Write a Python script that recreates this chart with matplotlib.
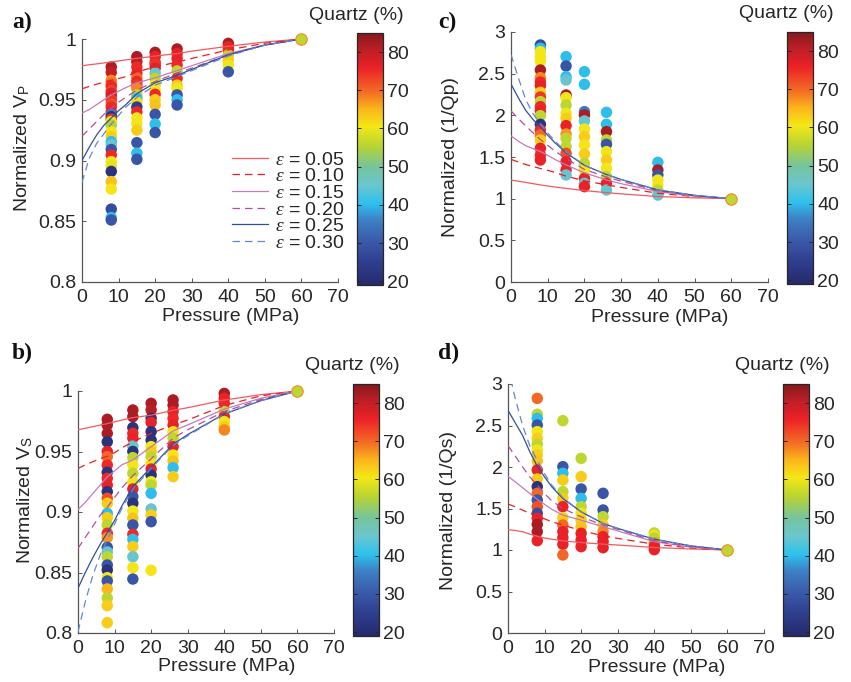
import matplotlib
matplotlib.use('Agg')
import matplotlib.pyplot as plt
from matplotlib.colors import LinearSegmentedColormap
from matplotlib import ticker

plt.rcParams['font.family'] = ['Liberation Sans', 'DejaVu Sans']
plt.rcParams['mathtext.fontset'] = 'custom'
plt.rcParams['mathtext.rm'] = 'Liberation Sans'
plt.rcParams['mathtext.it'] = 'Liberation Serif:italic'

# measurement pressures (MPa) for the scatter columns
pressures = [8, 15, 20, 26, 40]
p_ref = 60

# normalized Vp, one list per pressure, and quartz content (%) of each sample
vp_vals = [
    [0.977, 0.9726, 0.966, 0.963, 0.961, 0.9575, 0.9553, 0.953, 0.950, 0.9465, 0.944, 0.940, 0.938,
     0.936, 0.934, 0.932, 0.929, 0.9237, 0.9196, 0.9155, 0.913, 0.909, 0.9045, 0.899, 0.895,
     0.891, 0.8826, 0.8765, 0.860, 0.853, 0.851],
    [0.9855, 0.9813, 0.977, 0.9717, 0.968, 0.965, 0.962, 0.9594, 0.954, 0.951, 0.948, 0.944,
     0.940, 0.935, 0.9306, 0.925, 0.9147, 0.906, 0.901],
    [0.989, 0.9855, 0.981, 0.979, 0.976, 0.972, 0.9676, 0.962, 0.958, 0.9545, 0.950, 0.9457,
     0.938, 0.930, 0.923],
    [0.9918, 0.988, 0.984, 0.9786, 0.9737, 0.9676, 0.962, 0.9594, 0.954, 0.950, 0.9457],
    [0.9964, 0.9937, 0.991, 0.9868, 0.9827, 0.9786, 0.973],
]
vp_quartz = [
    [82, 80, 68, 70, 75, 73, 76, 78, 74, 72, 75, 76, 35, 22, 74, 60, 55, 61, 63, 40, 45, 30, 75,
     60, 59, 22, 64, 61, 28, 40, 30],
    [82, 81, 75, 76, 70, 75, 74, 68, 56, 40, 62, 25, 75, 60, 61, 63, 30, 40, 30],
    [82, 76, 75, 74, 77, 45, 56, 60, 61, 75, 63, 64, 30, 40, 30],
    [82, 77, 76, 75, 56, 75, 63, 60, 30, 40, 30],
    [82, 76, 75, 56, 63, 60, 30],
]

# normalized Vs
vs_vals = [
    [0.9766, 0.9719, 0.965, 0.958, 0.950, 0.9457, 0.9388, 0.9328, 0.9278, 0.9223, 0.9168, 0.9113,
     0.9072, 0.8989, 0.8953, 0.8893, 0.8824, 0.8788, 0.8708, 0.867, 0.863, 0.8562, 0.852, 0.8457,
     0.843, 0.8364, 0.829, 0.8226, 0.8085],
    [0.9843, 0.9788, 0.9697, 0.965, 0.961, 0.9545, 0.950, 0.9449, 0.9388, 0.932, 0.925, 0.919,
     0.9127, 0.9072, 0.9008, 0.8948, 0.8893, 0.8815, 0.8774, 0.8714, 0.863, 0.854, 0.8446],
    [0.9898, 0.9843, 0.9774, 0.974, 0.9664, 0.9595, 0.954, 0.950, 0.9457, 0.9402, 0.9355, 0.9306,
     0.925, 0.9223, 0.9154, 0.9025, 0.8975, 0.892, 0.8518],
    [0.9926, 0.9884, 0.983, 0.9774, 0.9719, 0.9664, 0.961, 0.954, 0.9471, 0.9421, 0.9366, 0.9292],
    [0.998, 0.994, 0.9898, 0.983, 0.9788, 0.9747, 0.9705, 0.9678],
]
vs_quartz = [
    [82, 82, 82, 22, 76, 70, 75, 22, 75, 76, 22, 72, 63, 40, 63, 56, 75, 67, 30, 45, 56, 30, 22,
     60, 30, 65, 56, 63, 63],
    [82, 82, 22, 75, 76, 45, 22, 56, 61, 56, 60, 76, 30, 22, 60, 64, 30, 75, 40, 63, 45, 61, 30],
    [82, 81, 22, 76, 22, 22, 60, 63, 56, 61, 76, 22, 60, 56, 40, 45, 63, 30, 61],
    [82, 82, 76, 75, 76, 60, 56, 76, 61, 64, 40, 63],
    [82, 76, 75, 56, 76, 60, 63, 68],
]

# normalized attenuation 1/Qp
qp_vals = [
    [2.844, 2.804, 2.764, 2.704, 2.652, 2.544, 2.452, 2.40, 2.356, 2.276, 2.22, 2.164, 2.104, 2.05,
     1.996, 1.892, 1.824, 1.764, 1.704, 1.604, 1.524, 1.464],
    [2.704, 2.592, 2.464, 2.424, 2.244, 2.212, 2.124, 2.024, 1.964, 1.876, 1.776, 1.724, 1.624,
     1.544, 1.444, 1.344, 1.284],
    [2.524, 2.372, 2.044, 2.004, 1.932, 1.836, 1.744, 1.644, 1.536, 1.424, 1.344, 1.244, 1.184,
     1.144],
    [2.036, 1.892, 1.804, 1.704, 1.652, 1.564, 1.464, 1.364, 1.264, 1.184, 1.104],
    [1.436, 1.344, 1.284, 1.223, 1.163, 1.103, 1.043],
]
qp_quartz = [
    [28, 40, 60, 61, 60, 82, 68, 75, 76, 63, 74, 56, 75, 76, 56, 22, 75, 70, 63, 76, 75, 76],
    [40, 30, 40, 45, 82, 60, 56, 60, 63, 76, 67, 56, 56, 72, 76, 76, 45],
    [40, 40, 35, 82, 45, 60, 63, 61, 63, 56, 60, 76, 45, 76],
    [40, 40, 82, 56, 30, 60, 63, 60, 56, 76, 45],
    [40, 82, 30, 60, 61, 56, 45],
]

# normalized attenuation 1/Qs
qs_vals = [
    [2.827, 2.635, 2.586, 2.506, 2.426, 2.345, 2.273, 2.205, 2.145, 2.072, 1.964, 1.855, 1.763,
     1.683, 1.602, 1.522, 1.442, 1.382, 1.309, 1.221, 1.112],
    [2.558, 2.004, 1.924, 1.843, 1.703, 1.622, 1.522, 1.389, 1.301, 1.221, 1.149, 1.068, 0.94],
    [2.104, 1.884, 1.735, 1.622, 1.522, 1.442, 1.361, 1.281, 1.201, 1.12, 1.040],
    [1.683, 1.482, 1.401, 1.301, 1.221, 1.160, 1.1, 1.028],
    [1.205, 1.175, 1.145, 1.084, 1.044, 1.004],
]
qs_quartz = [
    [70, 56, 40, 30, 60, 63, 56, 60, 63, 64, 76, 63, 22, 70, 30, 72, 28, 76, 82, 82, 76],
    [56, 30, 40, 63, 56, 63, 76, 63, 70, 76, 76, 76, 70],
    [56, 63, 30, 40, 56, 60, 63, 64, 76, 76, 76],
    [30, 30, 56, 63, 68, 76, 76, 76],
    [56, 60, 56, 68, 76, 76],
]
ref_quartz = 56

# crack-model curves for aspect ratios 0.05 ... 0.30
eps_labels = ['0.05', '0.10', '0.15', '0.20', '0.25', '0.30']
model_p = [0, 2, 4, 6, 8, 10, 12, 15, 20, 26, 30, 40, 50, 60]
vp_model = [
    [0.978, 0.9788, 0.9795, 0.9803, 0.981, 0.982, 0.9828, 0.984, 0.986, 0.988, 0.990, 0.994, 0.9975, 1],
    [0.959, 0.961, 0.9628, 0.9645, 0.966, 0.9675, 0.969, 0.973, 0.977, 0.981, 0.984, 0.991, 0.9965, 1],
    [0.939, 0.942, 0.946, 0.950, 0.954, 0.957, 0.960, 0.964, 0.968, 0.974, 0.978, 0.988, 0.995, 1],
    [0.920, 0.926, 0.932, 0.938, 0.943, 0.948, 0.952, 0.958, 0.965, 0.972, 0.976, 0.987, 0.995, 1],
    [0.900, 0.911, 0.921, 0.929, 0.935, 0.941, 0.946, 0.955, 0.964, 0.970, 0.975, 0.987, 0.995, 1],
    [0.882, 0.902, 0.914, 0.922, 0.930, 0.937, 0.944, 0.952, 0.962, 0.969, 0.974, 0.986, 0.995, 1],
]
vs_model = [
    [0.968, 0.9692, 0.9705, 0.9718, 0.973, 0.9745, 0.976, 0.978, 0.980, 0.984, 0.9862, 0.9925, 0.997, 1],
    [0.936, 0.939, 0.9415, 0.944, 0.946, 0.949, 0.953, 0.958, 0.965, 0.972, 0.976, 0.988, 0.996, 1],
    [0.902, 0.908, 0.915, 0.922, 0.929, 0.934, 0.939, 0.943, 0.954, 0.967, 0.972, 0.985, 0.994, 1],
    [0.870, 0.879, 0.888, 0.897, 0.904, 0.912, 0.920, 0.930, 0.944, 0.961, 0.968, 0.983, 0.993, 1],
    [0.837, 0.850, 0.862, 0.873, 0.883, 0.893, 0.905, 0.921, 0.937, 0.956, 0.964, 0.981, 0.992, 1],
    [0.801, 0.826, 0.847, 0.864, 0.877, 0.890, 0.903, 0.919, 0.936, 0.955, 0.963, 0.981, 0.992, 1],
]
qp_model = [
    [1.223, 1.21, 1.195, 1.18, 1.165, 1.152, 1.14, 1.123, 1.097, 1.072, 1.058, 1.025, 1.01, 1],
    [1.472, 1.44, 1.41, 1.385, 1.362, 1.34, 1.315, 1.27, 1.215, 1.165, 1.135, 1.065, 1.025, 1],
    [1.753, 1.69, 1.635, 1.60, 1.565, 1.52, 1.47, 1.405, 1.31, 1.225, 1.18, 1.085, 1.03, 1],
    [2.054, 1.96, 1.875, 1.79, 1.71, 1.64, 1.57, 1.48, 1.35, 1.26, 1.21, 1.095, 1.035, 1],
    [2.375, 2.21, 2.06, 1.95, 1.86, 1.76, 1.67, 1.55, 1.40, 1.29, 1.23, 1.105, 1.04, 1],
    [2.73, 2.45, 2.19, 2.02, 1.90, 1.79, 1.69, 1.56, 1.40, 1.29, 1.23, 1.105, 1.04, 1],
]
qs_model = [
    [1.245, 1.235, 1.22, 1.19, 1.165, 1.145, 1.13, 1.11, 1.09, 1.07, 1.06, 1.03, 1.012, 1],
    [1.554, 1.52, 1.48, 1.44, 1.41, 1.375, 1.34, 1.30, 1.235, 1.17, 1.14, 1.07, 1.025, 1],
    [1.888, 1.82, 1.75, 1.68, 1.61, 1.55, 1.49, 1.42, 1.36, 1.28, 1.23, 1.10, 1.035, 1],
    [2.257, 2.13, 2.00, 1.88, 1.78, 1.68, 1.59, 1.50, 1.40, 1.30, 1.25, 1.11, 1.04, 1],
    [2.683, 2.53, 2.38, 2.18, 2.01, 1.88, 1.76, 1.62, 1.46, 1.32, 1.26, 1.13, 1.05, 1],
    [3.2, 2.82, 2.50, 2.25, 2.08, 1.92, 1.78, 1.63, 1.46, 1.32, 1.26, 1.13, 1.05, 1],
]

line_colors = ['#ef5a60', '#ee1c24', '#c57abd', '#b24f9e', '#2f4f9f', '#6686cc']
line_dashed = [False, True, False, True, False, True]

quartz_cmap = LinearSegmentedColormap.from_list('quartz', [
    (0.00, '#262a6c'), (0.09, '#2e3f90'), (0.17, '#3a58a8'), (0.26, '#3d82c6'),
    (0.32, '#2ec0ee'), (0.40, '#6cc6cc'), (0.47, '#76c49c'), (0.55, '#b7d334'),
    (0.63, '#f5e816'), (0.70, '#fbb51c'), (0.77, '#f26a24'), (0.86, '#ec2227'),
    (0.93, '#c21f26'), (1.00, '#861a1c')])
q_min, q_max = 19, 85

ink = '#262626'
fs = 14
W, H = 851, 682

fig = plt.figure(figsize=(W / 100, H / 100), dpi=100)


def box(x0, y0, x1, y1):
    # pixel box -> figure fraction
    return [x0 / W, 1 - y1 / H, (x1 - x0) / W, (y1 - y0) / H]


def panel(ax_box, cb_box, vals, quartz, model, ylim, yticks, ylabel, ylab_pos, letter,
          letter_xy, legend=False):
    ax = fig.add_axes(box(*ax_box))
    cax = fig.add_axes(box(*cb_box))

    for p, v, q in zip(pressures, vals, quartz):
        sc = ax.scatter([p] * len(v), v, c=q, cmap=quartz_cmap, vmin=q_min, vmax=q_max,
                        s=68, linewidths=0, zorder=2, clip_on=False)
    for k, curve in enumerate(model):
        ls = (0, (6, 4)) if line_dashed[k] else '-'
        ax.plot(model_p, curve, color=line_colors[k], lw=0.9, linestyle=ls, zorder=3,
                label=r'$\varepsilon$ = ' + eps_labels[k])
    ax.scatter([p_ref], [1], c=[ref_quartz], cmap=quartz_cmap, vmin=q_min, vmax=q_max,
               s=68, linewidths=0.8, edgecolors='#f08a30', zorder=4, clip_on=False)

    ax.set_xlim(0, 70)
    ax.set_ylim(*ylim)
    ax.set_xticks(range(0, 71, 10))
    ax.set_yticks(yticks)
    ax.yaxis.set_major_formatter(ticker.FormatStrFormatter('%g'))
    for s in ['top', 'right']:
        ax.spines[s].set_visible(False)
    for s in ['left', 'bottom']:
        ax.spines[s].set_color('#555555')
        ax.spines[s].set_linewidth(0.9)
    ax.tick_params(direction='in', length=3, width=0.7, colors='#555555', labelcolor=ink,
                   labelsize=fs, pad=4)
    ax.tick_params(axis='x', pad=5)

    ax.set_xlabel('Pressure (MPa)', fontsize=fs, color=ink, va='center')
    ax.xaxis.set_label_coords(0.58, -0.14)
    ax.set_ylabel(ylabel, fontsize=fs, color=ink, va='center')
    ax.yaxis.set_label_coords(*ylab_pos)

    cb = fig.colorbar(sc, cax=cax, ticks=range(20, 81, 10))
    cb.outline.set_linewidth(0.9)
    cb.outline.set_edgecolor(ink)
    cax.tick_params(direction='in', length=3, width=0.7, labelsize=fs, labelcolor=ink,
                    colors=ink, left=True, pad=3)
    cx = (cb_box[0] + cb_box[2]) / 2 - 14
    fig.text(cx / W, 1 - (cb_box[1] - 18) / H, 'Quartz (%)', fontsize=fs, color=ink,
             ha='center', va='center')

    fig.text(letter_xy[0] / W, 1 - letter_xy[1] / H, letter, fontsize=17, fontweight='bold',
             family='Liberation Serif', color='#111111', ha='left', va='center')

    if legend:
        ax.legend(loc='upper left', bbox_to_anchor=((232 - ax_box[0]) / (ax_box[2] - ax_box[0]),
                                                    (ax_box[3] - 151) / (ax_box[3] - ax_box[1])),
                  frameon=False, fontsize=fs, handlelength=1.85, handletextpad=0.35,
                  labelspacing=-0.05, borderpad=0, borderaxespad=0, labelcolor=ink)
    return ax


panel((82, 39, 338, 282), (357, 33, 383, 285), vp_vals, vp_quartz, vp_model,
      (0.8, 1.0), [0.8, 0.85, 0.9, 0.95, 1.0], r'Normalized V$_\mathregular{P}$',
      (-0.234, 0.55), 'a)', (12, 22), legend=True)
panel((511, 32, 768, 282), (787, 32, 813, 284), qp_vals, qp_quartz, qp_model,
      (0, 3), [0, 0.5, 1, 1.5, 2, 2.5, 3], 'Normalized (1/Qp)',
      (-0.237, 0.5), 'c)', (438, 22))
panel((78, 391, 334, 633), (353, 384, 379, 636), vs_vals, vs_quartz, vs_model,
      (0.8, 1.0), [0.8, 0.85, 0.9, 0.95, 1.0], r'Normalized V$_\mathregular{S}$',
      (-0.205, 0.55), 'b)', (12, 353))
panel((508, 384, 764, 633), (783, 384, 809, 636), qs_vals, qs_quartz, qs_model,
      (0, 3), [0, 0.5, 1, 1.5, 2, 2.5, 3], 'Normalized (1/Qs)',
      (-0.234, 0.49), 'd)', (438, 353))

fig.savefig('out.png', dpi=100)
